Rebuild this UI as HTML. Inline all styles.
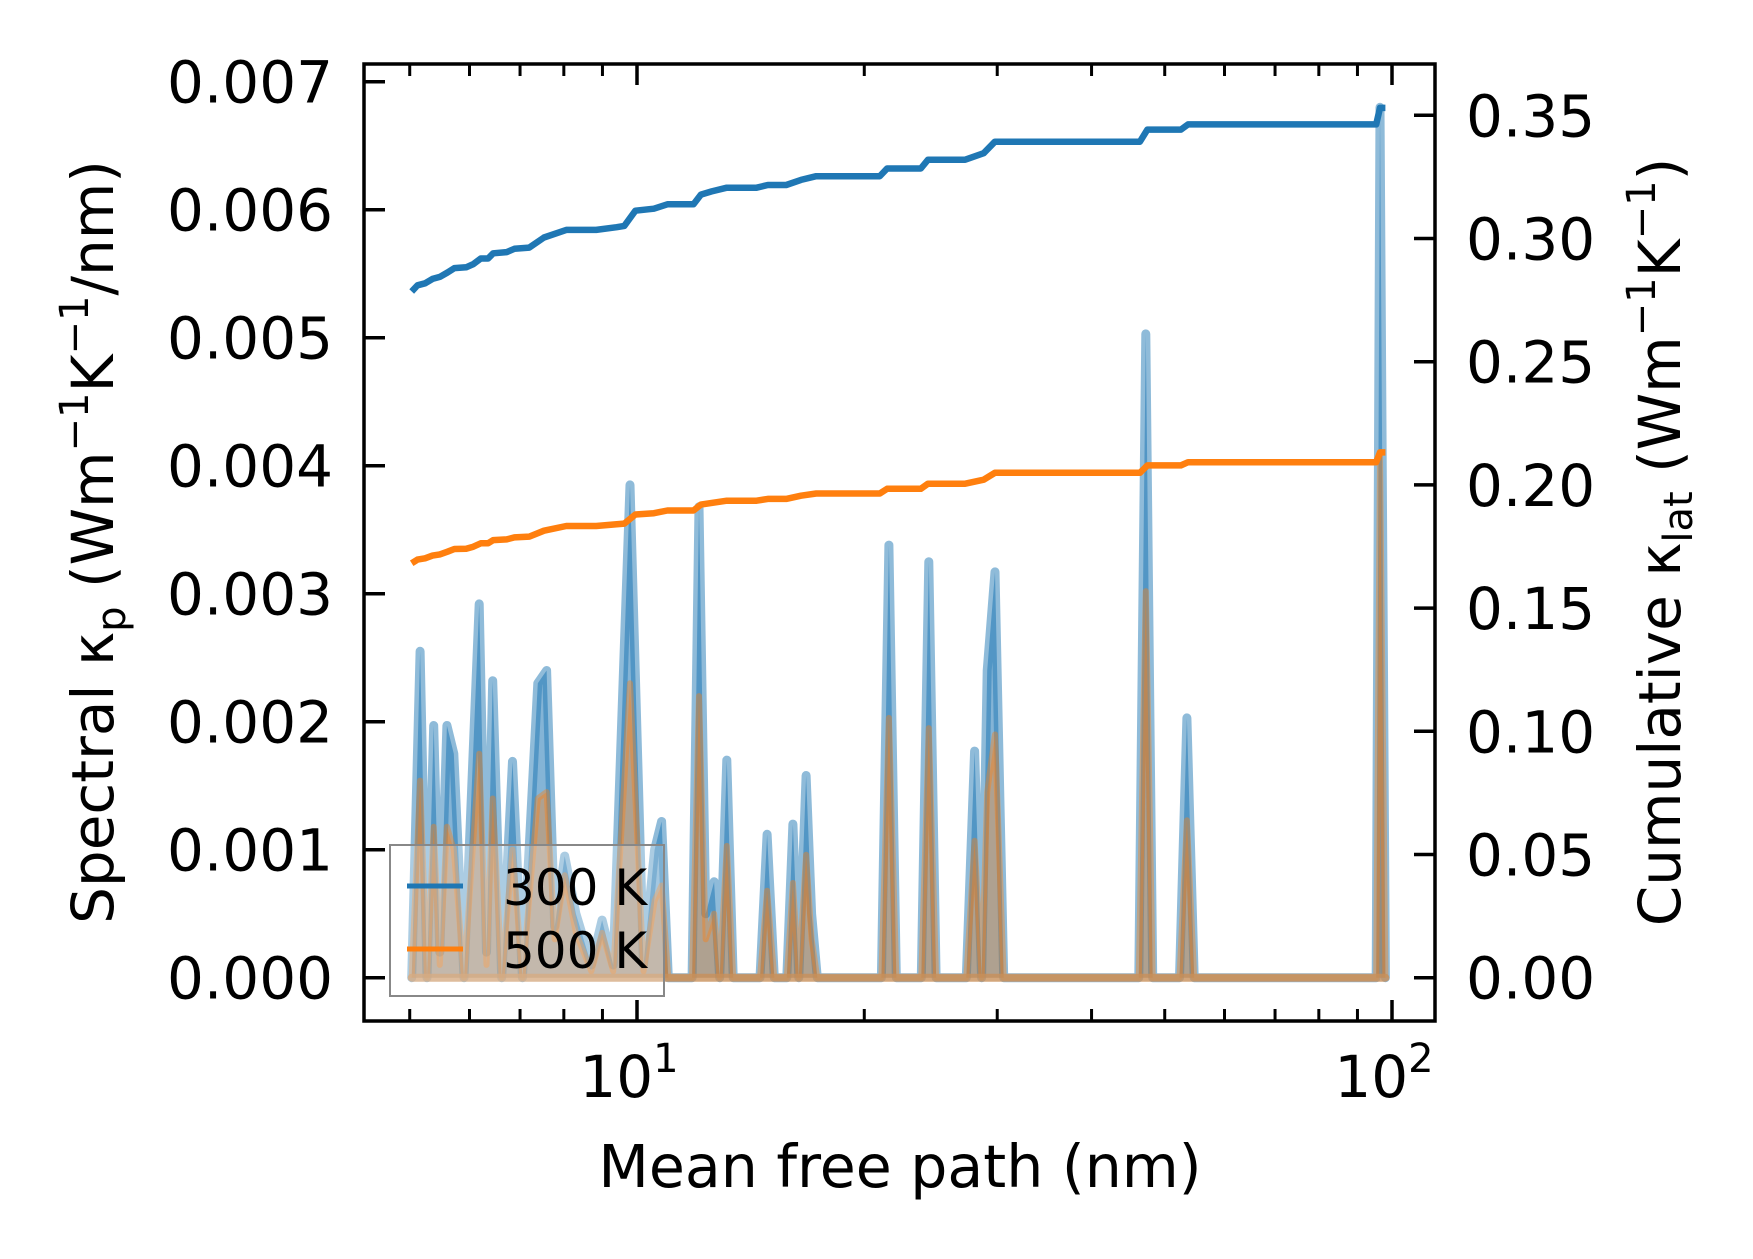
<!DOCTYPE html>
<html><head><meta charset="utf-8"><style>
html,body{margin:0;padding:0;background:#fff}
svg{display:block}
text{font-family:"DejaVu Sans","Liberation Sans",sans-serif;fill:#000}
</style></head><body>
<svg id="chart" width="1753" height="1259" viewBox="0 0 1753 1259" xmlns="http://www.w3.org/2000/svg">
<g id="plot"></g>
<g id="axes"></g>
</svg>
<script>
// Spectral data (left axis, units of 0.001 Wm-1K-1/nm)
const spectralMfp = [5.03,5.16,5.27,5.38,5.48,5.6,5.72,5.9,6.18,6.32,6.44,6.62,6.84,7.05,7.39,7.59,7.78,8.02,8.3,8.7,8.99,9.3,9.79,10.2,10.55,10.78,11.0,11.83,12.08,12.33,12.65,12.87,13.15,13.41,14.55,14.87,15.2,15.79,16.09,16.38,16.75,17.03,17.33,21.07,21.56,22.05,23.8,24.35,24.9,27.3,28.0,28.6,29.1,29.8,30.6,46.2,47.2,48.2,52.3,53.5,54.7,95.3,96.4,98.0];
const spectral300 = [0,2.55,0,1.97,0.2,1.97,1.75,0,2.92,0.2,2.32,0,1.69,0,2.3,2.4,0.4,0.95,0.5,0.1,0.45,0.1,3.85,0.1,1.0,1.22,0,0,3.68,0.5,0.75,0,1.7,0,0,1.12,0,0,1.2,0,1.58,0.5,0,0,3.38,0,0,3.25,0,0,1.77,0,2.4,3.17,0,0,5.03,0,0,2.03,0,0,6.8,0];
const spectral500 = [0,1.54,0,1.18,0.1,1.18,1.0,0,1.75,0.1,1.40,0,1.0,0,1.4,1.45,0.3,0.8,0.35,0.05,0.35,0.05,2.3,0.05,0.6,0.72,0,0,2.2,0.3,0.5,0,1.03,0,0,0.68,0,0,0.74,0,0.96,0.3,0,0,2.03,0,0,1.95,0,0,1.07,0,1.45,1.9,0,0,3.02,0,0,1.23,0,0,4.1,0];
// Cumulative data (right axis)
const cumMfp = [5.03,5.12,5.24,5.36,5.48,5.61,5.73,5.94,6.07,6.21,6.35,6.45,6.72,6.88,7.2,7.53,8.06,8.83,9.4,9.62,9.95,10.53,10.97,11.88,12.15,12.56,13.15,14.4,14.9,15.76,16.49,17.27,20.97,21.44,23.76,24.29,27.21,28.79,29.79,46.35,47.43,52.53,53.7,95.3,96.4,98.0];
const cum300 = [0.2785,0.281,0.2818,0.2836,0.2844,0.2862,0.288,0.2883,0.2896,0.2919,0.2919,0.294,0.2945,0.2958,0.2963,0.3004,0.3035,0.3035,0.3046,0.3051,0.3113,0.3121,0.3139,0.3139,0.3178,0.3191,0.3206,0.3206,0.3217,0.3217,0.3238,0.3253,0.3253,0.3284,0.3284,0.332,0.332,0.3346,0.3393,0.3393,0.3442,0.3442,0.3463,0.3463,0.353,0.353];
const cum500 = [0.1682,0.1697,0.1702,0.1713,0.1718,0.1729,0.174,0.1741,0.1749,0.1763,0.1763,0.1776,0.1779,0.1787,0.179,0.1814,0.1833,0.1833,0.184,0.1843,0.188,0.1885,0.1896,0.1896,0.192,0.1927,0.1936,0.1936,0.1943,0.1943,0.1956,0.1965,0.1965,0.1984,0.1984,0.2005,0.2005,0.2021,0.2049,0.2049,0.2079,0.2079,0.2092,0.2092,0.2132,0.2132];
const leftTicks = [0,1,2,3,4,5,6,7];
const leftTickLabels = ["0.000","0.001","0.002","0.003","0.004","0.005","0.006","0.007"];
const rightTicks = [0,0.05,0.1,0.15,0.2,0.25,0.3,0.35];
const rightTickLabels = ["0.00","0.05","0.10","0.15","0.20","0.25","0.30","0.35"];
const xMajor = [10,100];
const xMajorExp = ["1","2"];
const xMinor = [5,6,7,8,9,20,30,40,50,60,70,80,90];

const NS="http://www.w3.org/2000/svg";
const L=364,R=1435,T=64,B=1021;
function xs(v){return 637+755*Math.log10(v/10);}
function yl(v){return 977.7-128*v;}
function yr(v){return 977.7-v/0.05*123.2;}
function mk(tag,attrs,parent){const e=document.createElementNS(NS,tag);for(const k in attrs)e.setAttribute(k,attrs[k]);parent.appendChild(e);return e;}
const plot=document.getElementById('plot'), axes=document.getElementById('axes');

function areaPath(xsArr,ys){let d='M'+xs(xsArr[0])+','+yl(0);for(let i=0;i<xsArr.length;i++)d+=' L'+xs(xsArr[i]).toFixed(1)+','+yl(ys[i]).toFixed(1);d+=' L'+xs(xsArr[xsArr.length-1])+','+yl(0)+' Z';return d;}
function linePath(xsArr,ys,yf){let d='';for(let i=0;i<xsArr.length;i++)d+=(i?' L':'M')+xs(xsArr[i]).toFixed(1)+','+yf(ys[i]).toFixed(1);return d;}

let a=mk('path',{d:areaPath(spectralMfp,spectral300),fill:'#1f77b4','fill-opacity':'0.55',stroke:'none'},plot);


let l=mk('path',{d:linePath(spectralMfp,spectral300,yl),fill:'none',stroke:'#1f77b4','stroke-opacity':'0.5','stroke-width':'9','stroke-linejoin':'round','stroke-linecap':'round'},plot);


let a2=mk('path',{d:areaPath(spectralMfp,spectral500),fill:'#ff7f0e','fill-opacity':'0.35',stroke:'none'},plot);


let l2=mk('path',{d:linePath(spectralMfp,spectral500,yl),fill:'none',stroke:'#ff7f0e','stroke-opacity':'0.4','stroke-width':'6','stroke-linejoin':'round'},plot);


let bl=mk('path',{d:'M'+xs(spectralMfp[0])+','+yl(0)+' L'+xs(spectralMfp[spectralMfp.length-1])+','+yl(0),stroke:'#c8905a','stroke-width':'8','stroke-opacity':'0.8',fill:'none','stroke-linecap':'round'},plot);


let c1=mk('path',{d:linePath(cumMfp,cum300,yr),fill:'none',stroke:'#1f77b4','stroke-width':'6.5','stroke-linejoin':'round'},plot);


let c2=mk('path',{d:linePath(cumMfp,cum500,yr),fill:'none',stroke:'#ff7f0e','stroke-width':'6.5','stroke-linejoin':'round'},plot);



let fr=mk('rect',{x:L,y:T,width:R-L,height:B-T,fill:'none',stroke:'#000','stroke-width':'3.5'},axes);


leftTicks.forEach((v,i)=>{const y=yl(v);
 let t=mk('line',{x1:L,x2:L+21,y1:y,y2:y,stroke:'#000','stroke-width':'3.5'},axes);
 
 
 let tx=mk('text',{x:L-31,y:y+21,'text-anchor':'end','font-size':'58'},axes);tx.textContent=leftTickLabels[i];
 
 
});
rightTicks.forEach((v,i)=>{const y=yr(v);
 let t=mk('line',{x1:R-21,x2:R,y1:y,y2:y,stroke:'#000','stroke-width':'3.5'},axes);
 
 
 let tx=mk('text',{x:R+31,y:y+21,'text-anchor':'start','font-size':'58'},axes);tx.textContent=rightTickLabels[i];
 
 
});
xMajor.forEach((v,i)=>{const x=xs(v);
 [[B,B-21],[T,T+21]].forEach(p=>{let t=mk('line',{x1:x,x2:x,y1:p[0],y2:p[1],stroke:'#000','stroke-width':'3.5'},axes);
 
 });
 let tx=mk('text',{x:x-8,y:1097,'text-anchor':'middle','font-size':'58'},axes);
 
 
 tx.appendChild(document.createTextNode('10'));
 let sp=mk('tspan',{dy:'-25','font-size':'40'},tx);sp.textContent=xMajorExp[i];
});
xMinor.forEach(v=>{const x=xs(v);
 [[B,B-12],[T,T+12]].forEach(p=>{let t=mk('line',{x1:x,x2:x,y1:p[0],y2:p[1],stroke:'#000','stroke-width':'3'},axes);
 
 });
});
</script>
<svg style="position:absolute;left:0;top:0" width="1753" height="1259">
<text x="900" y="1187" text-anchor="middle" font-size="58.5" style="font-family:'DejaVu Sans',sans-serif">Mean free path (nm)</text>
<text transform="translate(113,542) rotate(-90)" text-anchor="middle" font-size="58" style="font-family:'DejaVu Sans',sans-serif">Spectral κ<tspan font-size="40" dy="12">p</tspan><tspan dy="-12"> (Wm</tspan><tspan font-size="40" dy="-25">−1</tspan><tspan dy="25">K</tspan><tspan font-size="40" dy="-25">−1</tspan><tspan dy="25">/nm)</tspan></text>
<text transform="translate(1680,542) rotate(-90)" text-anchor="middle" font-size="58" style="font-family:'DejaVu Sans',sans-serif">Cumulative κ<tspan font-size="40" dy="12">lat</tspan><tspan dy="-12"> (Wm</tspan><tspan font-size="40" dy="-25">−1</tspan><tspan dy="25">K</tspan><tspan font-size="40" dy="-25">−1</tspan><tspan dy="25">)</tspan></text>
<g>
<rect x="390" y="845" width="274" height="151" fill="#fff" fill-opacity="0.25" stroke="#888" stroke-width="2"/>
<line x1="407" x2="463" y1="886" y2="886" stroke="#1f77b4" stroke-width="5"/>
<text x="503" y="905" font-size="50" style="font-family:'DejaVu Sans',sans-serif">300 K</text>
<line x1="407" x2="463" y1="949" y2="949" stroke="#ff7f0e" stroke-width="5"/>
<text x="503" y="968" font-size="50" style="font-family:'DejaVu Sans',sans-serif">500 K</text>
</g>
</svg>
</body></html>
